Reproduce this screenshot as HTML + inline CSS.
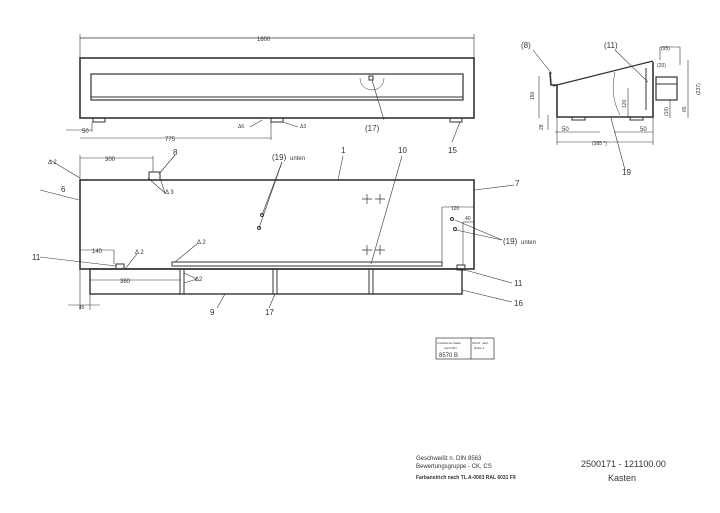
<!DOCTYPE html>
<html><head><meta charset="utf-8"><style>
html,body{margin:0;padding:0;background:#fff;}
svg{display:block;font-family:"Liberation Sans",sans-serif;}
text{fill:#333;}
</style></head><body>
<svg width="720" height="513" viewBox="0 0 720 513" xmlns="http://www.w3.org/2000/svg">
<rect width="720" height="513" fill="#fff"/>
<g stroke="#333" fill="none" stroke-width="1">
<!-- TOP VIEW -->
<rect x="80" y="58" width="394" height="60" stroke-width="1.6"/>
<rect x="91" y="74" width="372" height="26" stroke-width="1.2"/>
<line x1="91" y1="97" x2="463" y2="97"/>
<line x1="80" y1="38" x2="474" y2="38" stroke-width="0.7"/>
<line x1="80" y1="34" x2="80" y2="58" stroke-width="0.6"/>
<line x1="474" y1="34" x2="474" y2="58" stroke-width="0.6"/>
<rect x="93" y="118" width="12" height="4"/>
<rect x="271" y="118" width="12" height="4"/>
<rect x="450" y="118" width="12" height="4"/>
<line x1="80" y1="138" x2="271" y2="138" stroke-width="0.6"/>
<line x1="271" y1="122" x2="271" y2="140" stroke-width="0.6"/>
<line x1="66" y1="130" x2="92" y2="130" stroke-width="0.6"/>
<line x1="92" y1="122" x2="92" y2="132" stroke-width="0.6"/>
<rect x="369" y="76" width="4" height="4"/>
<path d="M360 78 A 12 12 0 0 0 384 78" stroke-width="0.5"/>
<line x1="372" y1="80" x2="384" y2="120" stroke-width="0.6"/>
<line x1="460" y1="122" x2="452" y2="142" stroke-width="0.6"/>
<line x1="250" y1="127" x2="262" y2="120" stroke-width="0.6"/>
<line x1="283" y1="122" x2="298" y2="127" stroke-width="0.6"/>
<!-- FRONT VIEW -->
<rect x="80" y="180" width="394" height="89" stroke-width="1.6"/>
<rect x="90" y="269" width="372" height="25" stroke-width="1.4"/>
<line x1="180" y1="269" x2="180" y2="294"/><line x1="184" y1="269" x2="184" y2="294"/>
<line x1="273" y1="269" x2="273" y2="294"/><line x1="277" y1="269" x2="277" y2="294"/>
<line x1="369" y1="269" x2="369" y2="294"/><line x1="373" y1="269" x2="373" y2="294"/>
<rect x="172" y="262" width="270" height="4" stroke-width="1"/>
<rect x="149" y="172" width="11" height="8"/>
<rect x="116" y="264" width="8" height="5"/>
<rect x="457" y="265" width="8" height="5"/>
<!-- dims front -->
<line x1="80" y1="158" x2="153" y2="158" stroke-width="0.6"/>
<line x1="80" y1="155" x2="80" y2="180" stroke-width="0.6"/>
<line x1="153" y1="156" x2="153" y2="172" stroke-width="0.6"/>
<line x1="80" y1="250" x2="114" y2="250" stroke-width="0.6"/>
<line x1="114" y1="250" x2="114" y2="264" stroke-width="0.6"/>
<line x1="90" y1="280" x2="180" y2="280" stroke-width="0.6"/>
<line x1="80" y1="269" x2="80" y2="310" stroke-width="0.6"/>
<line x1="90" y1="294" x2="90" y2="310" stroke-width="0.6"/>
<line x1="68" y1="305" x2="100" y2="305" stroke-width="0.6"/>
<line x1="442" y1="207" x2="474" y2="207" stroke-width="0.6"/>
<line x1="442" y1="207" x2="442" y2="262" stroke-width="0.6"/>
<line x1="463" y1="222" x2="474" y2="222" stroke-width="0.6"/>
<line x1="463" y1="222" x2="463" y2="265" stroke-width="0.6"/>
<!-- leaders -->
<line x1="50" y1="160" x2="80" y2="178" stroke-width="0.6"/>
<line x1="40" y1="190" x2="79" y2="200" stroke-width="0.6"/>
<line x1="40" y1="257" x2="116" y2="266" stroke-width="0.6"/>
<line x1="175" y1="155" x2="159" y2="174" stroke-width="0.6"/>
<line x1="148" y1="178" x2="165" y2="193" stroke-width="0.6"/>
<line x1="160" y1="178" x2="165" y2="193" stroke-width="0.6"/>
<line x1="125" y1="269" x2="137" y2="254" stroke-width="0.6"/>
<line x1="175" y1="262" x2="197" y2="244" stroke-width="0.6"/>
<line x1="184" y1="273" x2="197" y2="279" stroke-width="0.6"/>
<line x1="184" y1="283" x2="197" y2="279" stroke-width="0.6"/>
<line x1="282" y1="162" x2="262" y2="215" stroke-width="0.6"/>
<line x1="282" y1="162" x2="259" y2="228" stroke-width="0.6"/>
<line x1="343" y1="156" x2="338" y2="180" stroke-width="0.6"/>
<line x1="402" y1="156" x2="371" y2="264" stroke-width="0.6"/>
<line x1="514" y1="185" x2="475" y2="190" stroke-width="0.6"/>
<line x1="455" y1="220" x2="502" y2="240" stroke-width="0.6"/>
<line x1="456" y1="230" x2="502" y2="240" stroke-width="0.6"/>
<line x1="465" y1="270" x2="512" y2="283" stroke-width="0.6"/>
<line x1="462" y1="290" x2="512" y2="302" stroke-width="0.6"/>
<line x1="225" y1="294" x2="217" y2="308" stroke-width="0.6"/>
<line x1="275" y1="294" x2="269" y2="308" stroke-width="0.6"/>
<!-- crosses -->
<path d="M362 199h10M367 194v10M375 199h10M380 194v10M362 250h10M367 245v10M375 250h10M380 245v10" stroke-width="0.7"/>
<circle cx="262" cy="215" r="1.5"/><circle cx="259" cy="228" r="1.5"/>
<circle cx="452" cy="219" r="1.5"/><circle cx="455" cy="229" r="1.5"/>
<!-- SIDE VIEW -->
<path d="M550 72 L551 85 L557 85 L557 117 L653 117 L653 62" stroke-width="1.6"/>
<line x1="553" y1="86" x2="653" y2="61" stroke-width="1.2"/>
<line x1="646" y1="68" x2="646" y2="110" stroke-width="1"/>
<rect x="656" y="77" width="21" height="23" stroke-width="1.2"/>
<line x1="656" y1="84" x2="677" y2="84"/>
<rect x="572" y="117" width="13" height="3"/><rect x="630" y="117" width="13" height="3"/>
<line x1="555" y1="132" x2="600" y2="132" stroke-width="0.6"/>
<line x1="614" y1="132" x2="653" y2="132" stroke-width="0.6"/>
<line x1="557" y1="142" x2="653" y2="142" stroke-width="0.6"/>
<line x1="557" y1="117" x2="557" y2="145" stroke-width="0.6"/>
<line x1="653" y1="117" x2="653" y2="145" stroke-width="0.6"/>
<line x1="539" y1="76" x2="539" y2="118" stroke-width="0.6"/>
<line x1="548" y1="115" x2="548" y2="130" stroke-width="0.6"/>
<line x1="628" y1="88" x2="628" y2="117" stroke-width="0.6"/>
<line x1="660" y1="47" x2="680" y2="47" stroke-width="0.6"/>
<line x1="660" y1="47" x2="660" y2="60" stroke-width="0.6"/>
<line x1="680" y1="47" x2="680" y2="65" stroke-width="0.6"/>
<line x1="688" y1="60" x2="688" y2="118" stroke-width="0.6"/>
<line x1="670" y1="100" x2="670" y2="118" stroke-width="0.6"/>
<line x1="533" y1="50" x2="552" y2="74" stroke-width="0.6"/>
<line x1="615" y1="50" x2="648" y2="82" stroke-width="0.6"/>
<line x1="611" y1="118" x2="625" y2="170" stroke-width="0.6"/>
<path d="M615 72 C612 85 612 100 620 115" stroke-width="0.5"/>
<!-- table -->
<rect x="436" y="338" width="58" height="21" stroke-width="0.7"/>
<line x1="471" y1="338" x2="471" y2="359" stroke-width="0.7"/>
</g>
<g font-size="6">
<text x="257" y="41">1600</text>
<text x="82" y="133">50</text>
<text x="165" y="141">775</text>
<text x="365" y="131" font-size="8">(17)</text>
<text x="448" y="153" font-size="8">15</text>
<text x="238" y="128" font-size="5">Δ6</text><text x="300" y="128" font-size="5">Δ3</text>
<text x="105" y="161">300</text>
<text x="48" y="164" font-size="6">Δ 2</text>
<text x="165" y="194" font-size="6">Δ 3</text>
<text x="135" y="254">Δ 2</text>
<text x="197" y="244">Δ 2</text>
<text x="195" y="281">Δ2</text>
<text x="92" y="253">140</text>
<text x="120" y="283">360</text>
<text x="79" y="309" font-size="5">45</text>
<text x="451" y="210" font-size="5">120</text>
<text x="465" y="220" font-size="5">40</text>
<text x="173" y="155" font-size="8">8</text>
<text x="272" y="160" font-size="8">(19)</text><text x="290" y="160" font-size="6">unten</text>
<text x="341" y="153" font-size="8">1</text>
<text x="398" y="153" font-size="8">10</text>
<text x="515" y="186" font-size="8">7</text>
<text x="61" y="192" font-size="8">6</text>
<text x="32" y="260" font-size="8">11</text>
<text x="503" y="244" font-size="8">(19)</text><text x="521" y="244" font-size="6">unten</text>
<text x="514" y="286" font-size="8">11</text>
<text x="514" y="306" font-size="8">16</text>
<text x="210" y="315" font-size="8">9</text>
<text x="265" y="315" font-size="8">17</text>
<text x="521" y="48" font-size="8">(8)</text>
<text x="604" y="48" font-size="8">(11)</text>
<text x="661" y="50" font-size="5">(95)</text>
<text x="657" y="67" font-size="5">(20)</text>
<text x="622" y="175" font-size="8">19</text>
<text x="562" y="131" font-size="6">50</text><text x="640" y="131" font-size="6">50</text>
<text x="592" y="145" font-size="5">(385 *)</text>
<text x="534" y="100" font-size="5" transform="rotate(-90 534 100)">150</text>
<text x="543" y="130" font-size="5" transform="rotate(-90 543 130)">28</text>
<text x="626" y="108" font-size="5" transform="rotate(-90 626 108)">120</text>
<text x="668" y="116" font-size="5" transform="rotate(-90 668 116)">(10)</text>
<text x="686" y="112" font-size="5" transform="rotate(-90 686 112)">65</text>
<text x="700" y="95" font-size="5" transform="rotate(-90 700 95)">(237)</text>
<text x="437" y="344" font-size="3">Unlolerierte Maße</text>
<text x="472" y="344" font-size="3">Oberfl. nach</text>
<text x="444" y="349" font-size="3">nach DIN</text>
<text x="474" y="349" font-size="3">Reihe 2</text>
<text x="439" y="357" font-size="6">8570 B</text>
<text x="416" y="460">Geschweißt n. DIN 8563</text>
<text x="416" y="468">Bewertungsgruppe - CK, CS</text>
<text x="416" y="479" font-size="5" font-weight="bold">Farbanstrich nach TL A-0003  RAL 6031 F9</text>
<text x="581" y="467" font-size="9">2500171 - 121100.00</text>
<text x="608" y="481" font-size="9">Kasten</text>
</g>
</svg>
</body></html>
